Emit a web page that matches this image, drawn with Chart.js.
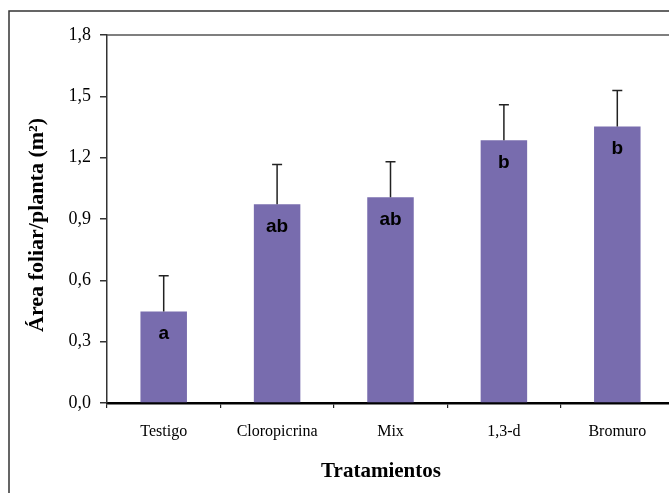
<!DOCTYPE html>
<html>
<head>
<meta charset="utf-8">
<script src="https://cdn.jsdelivr.net/npm/chart.js@4"></script>
<style>
  html, body { margin: 0; padding: 0; background: #fff; }
  #wrap { width: 669px; height: 493px; overflow: hidden; position: relative; }
  canvas { display: block; }
</style>
</head>
<body>
<div id="wrap"><canvas id="c" width="700" height="520"></canvas></div>
<script>
// ---- data ----
const categories = ['Testigo', 'Cloropicrina', 'Mix', '1,3-d', 'Bromuro'];
const values = [0.447, 0.972, 1.006, 1.285, 1.353];
const errors = [0.176, 0.195, 0.174, 0.174, 0.176];
const letters = ['a', 'ab', 'ab', 'b', 'b'];
const yTicks = [0, 0.3, 0.6, 0.9, 1.2, 1.5, 1.8];
const xTitle = 'Tratamientos';
const yTitle = 'Área foliar/planta (m²)';

const serif = '"Liberation Serif", "Times New Roman", serif';
const sans = '"Liberation Sans", Arial, sans-serif';

const decor = {
  id: 'decor',
  beforeDraw(chart) {
    const ctx = chart.ctx;
    ctx.save();
    ctx.fillStyle = '#fff';
    ctx.fillRect(0, 0, chart.width, chart.height);
    ctx.restore();
  },
  afterDraw(chart) {
    const ctx = chart.ctx;
    const a = chart.chartArea;
    const ys = chart.scales.y;
    const meta = chart.getDatasetMeta(0);
    ctx.save();
    // outer frame
    ctx.strokeStyle = '#333';
    ctx.lineWidth = 1.5;
    ctx.strokeRect(9, 11, 680, 500);
    // plot box top & right
    ctx.strokeStyle = '#555';
    ctx.lineWidth = 1.5;
    ctx.beginPath();
    ctx.moveTo(a.left, a.top);
    ctx.lineTo(a.right, a.top);
    ctx.lineTo(a.right, a.bottom);
    ctx.stroke();
    // error bars + letters
    meta.data.forEach((bar, i) => {
      const x = bar.x;
      const yTop = ys.getPixelForValue(values[i]);
      const yErr = ys.getPixelForValue(values[i] + errors[i]);
      ctx.strokeStyle = '#222';
      ctx.lineWidth = 1.5;
      ctx.beginPath();
      ctx.moveTo(x, yTop);
      ctx.lineTo(x, yErr);
      ctx.moveTo(x - 5, yErr);
      ctx.lineTo(x + 5, yErr);
      ctx.stroke();
      ctx.fillStyle = '#000';
      ctx.font = 'bold 19px ' + sans;
      ctx.textAlign = 'center';
      ctx.textBaseline = 'middle';
      ctx.fillText(letters[i], x, yTop + 22);
    });
    // axis titles
    ctx.fillStyle = '#000';
    ctx.font = 'bold 21px ' + serif;
    ctx.textAlign = 'center';
    ctx.textBaseline = 'middle';
    ctx.fillText(xTitle, 381, 472);
    ctx.translate(37, 225);
    ctx.rotate(-Math.PI / 2);
    ctx.font = 'bold 22px ' + serif;
    ctx.fillText(yTitle, 0, 0);
    ctx.restore();
  }
};

new Chart(document.getElementById('c'), {
  type: 'bar',
  data: {
    labels: categories,
    datasets: [{
      data: values,
      backgroundColor: '#786cae',
      borderWidth: 0,
      barPercentage: 0.41,
      categoryPercentage: 1.0
    }]
  },
  options: {
    responsive: false,
    animation: false,
    devicePixelRatio: 1,
    layout: { padding: { top: 35, right: 26, left: 0, bottom: 0 } },
    plugins: { legend: { display: false }, tooltip: { enabled: false } },
    scales: {
      x: {
        afterFit(s) { s.height = 117; },
        border: { display: true, color: '#000', width: 2.5 },
        grid: { display: true, drawOnChartArea: false, drawTicks: true, tickLength: 5, color: '#000', tickColor: '#222', offset: true, lineWidth: 1.2 },
        ticks: { color: '#000', font: { family: serif, size: 16 }, padding: 14, maxRotation: 0, autoSkip: false }
      },
      y: {
        min: 0, max: 1.8,
        afterFit(s) { s.width = 107; },
        afterBuildTicks(s) { s.ticks = yTicks.map(v => ({ value: v })); },
        border: { display: true, color: '#333', width: 1.5 },
        grid: { display: true, drawOnChartArea: false, drawTicks: true, tickLength: 7, tickColor: '#333', lineWidth: 1.5 },
        ticks: {
          color: '#000', font: { family: serif, size: 18 }, padding: 9,
          callback: v => Number(v).toFixed(1).replace('.', ',')
        }
      }
    }
  },
  plugins: [decor]
});
</script>
</body>
</html>
